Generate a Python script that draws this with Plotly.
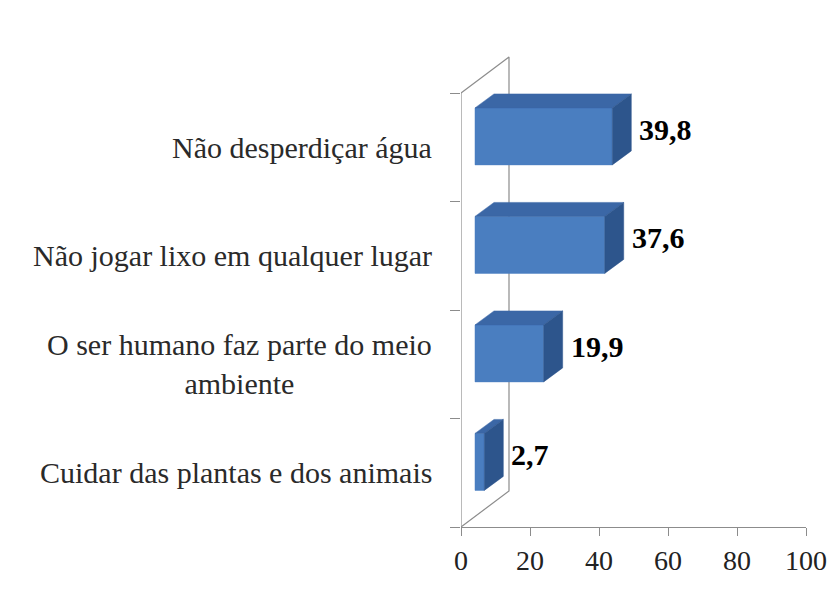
import plotly.graph_objects as go

# ---- data ----
CATEGORIES = [
    "Cuidar das plantas e dos animais",
    "O ser humano faz parte do meio<br>ambiente",
    "Não jogar lixo em qualquer lugar",
    "Não desperdiçar água",
]
VALUES = [2.7, 19.9, 37.6, 39.8]
VALUE_LABELS = ["2,7", "19,9", "37,6", "39,8"]
X_TICKS = [0, 20, 40, 60, 80, 100]

# ---- geometry / style (pseudo-3D projection) ----
PX_X = 345 / 100.0      # px per x unit
PX_Y = 108.5            # px per category
BAR_X0 = 14 / PX_X      # front face offset from axis origin
BAR_H = 0.525           # front face height (category units)
BAR_OFF = 0.1           # front face center shift upward
DX = 19 / PX_X          # bar depth (x)
DY = 14 / PX_Y          # bar depth (y)
WALL_X = 48 / PX_X      # back wall depth (x)
WALL_Y = 36 / PX_Y      # back wall depth (y)
FONT = "Liberation Serif, Times New Roman, serif"
FRONT_C = "#4A7EC0"
TOP_C = "#3B67A6"
SIDE_C = "#2D558C"
AXIS_C = "#8C8C8C"

n = len(CATEGORIES)
ypos = list(range(n))

front_x, front_y, top_x, top_y, side_x, side_y = [], [], [], [], [], []
for c, v in zip(ypos, VALUES):
    yb = c + BAR_OFF - BAR_H / 2
    yt = c + BAR_OFF + BAR_H / 2
    x0 = BAR_X0
    x1 = BAR_X0 + v
    front_x += [x0, x1, x1, x0, x0, None]
    front_y += [yb, yb, yt, yt, yb, None]
    top_x += [x0, x1, x1 + DX, x0 + DX, x0, None]
    top_y += [yt, yt, yt + DY, yt + DY, yt, None]
    side_x += [x1, x1 + DX, x1 + DX, x1, x1, None]
    side_y += [yb, yb + DY, yt + DY, yt, yb, None]

fig = go.Figure()

# back wall / floor lines
ymin, ymax = -0.5, n - 0.5
fig.add_trace(go.Scatter(
    x=[0, WALL_X, WALL_X, 0, None],
    y=[ymin, ymin + WALL_Y, ymax + WALL_Y, ymax, None],
    mode="lines", line=dict(color=AXIS_C, width=1.2),
    hoverinfo="skip", showlegend=False, cliponaxis=False))
fig.add_trace(go.Scatter(
    x=[0, 0], y=[ymin, ymax], mode="lines",
    line=dict(color=AXIS_C, width=1.2),
    hoverinfo="skip", showlegend=False, cliponaxis=False))

for xs, ys, col in [(front_x, front_y, FRONT_C), (top_x, top_y, TOP_C), (side_x, side_y, SIDE_C)]:
    fig.add_trace(go.Scatter(
        x=xs, y=ys, mode="lines", fill="toself", fillcolor=col,
        line=dict(color=col, width=0.5), hoverinfo="skip",
        showlegend=False, cliponaxis=False))

annotations = []
for c, v, lab in zip(ypos, VALUES, VALUE_LABELS):
    annotations.append(dict(
        x=BAR_X0 + v + DX, y=c + BAR_OFF + DY / 2, text=lab,
        xref="x", yref="y", xanchor="left", yanchor="middle",
        xshift=6, showarrow=False,
        font=dict(family=FONT, size=30, color="#000000", weight="bold")))
for c, cat in zip(ypos, CATEGORIES):
    annotations.append(dict(
        x=0, y=c, text=cat, xref="x", yref="y",
        xanchor="right", yanchor="middle", align="center",
        xshift=-27, showarrow=False,
        font=dict(family=FONT, size=30, color="#2a2a2a")))

fig.update_layout(
    width=829, height=594,
    margin=dict(l=461, r=23, t=50, b=67),
    paper_bgcolor="white", plot_bgcolor="white",
    showlegend=False,
    annotations=annotations,
    xaxis=dict(range=[0, 100], tickvals=X_TICKS, ticktext=[str(t) for t in X_TICKS],
               showline=True, linecolor=AXIS_C, linewidth=1.2,
               ticks="outside", ticklen=8, tickcolor=AXIS_C, tickwidth=1.2,
               tickfont=dict(family=FONT, size=28, color="#222222"),
               showgrid=False, zeroline=False, fixedrange=True, automargin=False),
    yaxis=dict(range=[ymin, ymin + 477 / PX_Y],
               tickvals=[i - 0.5 for i in range(n + 1)],
               ticks="outside", ticklen=10, tickcolor=AXIS_C, tickwidth=1.2,
               showticklabels=False, showline=False,
               showgrid=False, zeroline=False, fixedrange=True, automargin=False),
)

fig.write_html("out.html", config={"displayModeBar": False},
               post_script="document.body.style.margin='0';document.body.style.overflow='hidden';")
